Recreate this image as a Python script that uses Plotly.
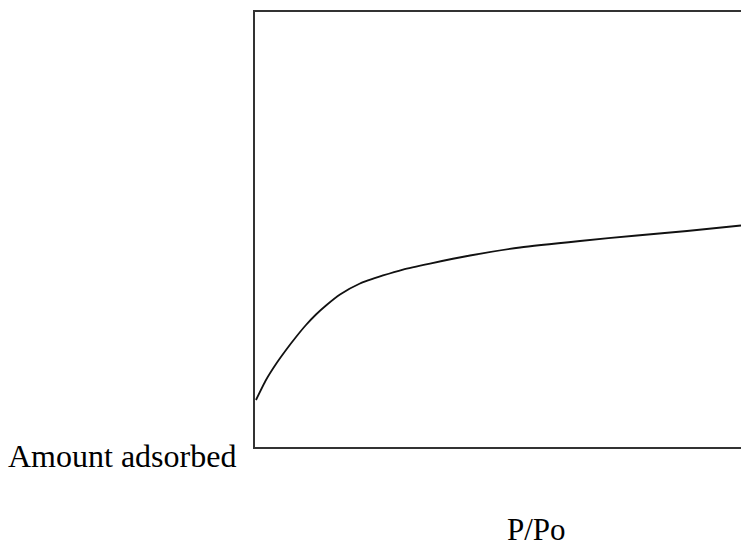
import plotly.graph_objects as go

# Relative pressure (P/Po) and amount adsorbed (arbitrary units)
p_po = [0.002, 0.0226, 0.0432, 0.0638, 0.0844, 0.1049, 0.1255, 0.1461, 0.1749,
        0.2160, 0.2634, 0.3045, 0.3601, 0.4424, 0.5453, 0.6687, 0.7860, 0.8889, 1.0]
amount = [0.108, 0.154, 0.1908, 0.223, 0.2529, 0.2805, 0.3046, 0.3253, 0.3506,
          0.3759, 0.3943, 0.408, 0.4218, 0.4402, 0.4586, 0.4736, 0.4862, 0.4966, 0.5092]

x_label = "P/Po"
y_label = "Amount adsorbed"

FONT = "Liberation Serif, Times New Roman, serif"

fig = go.Figure()
fig.add_trace(go.Scatter(
    x=p_po, y=amount, mode="lines",
    line=dict(color="#111111", width=1.8, shape="spline", smoothing=0.5),
    hoverinfo="skip", showlegend=False,
))

fig.update_layout(
    width=741, height=550,
    margin=dict(l=255, r=0, t=12, b=103),
    paper_bgcolor="white", plot_bgcolor="white",
    showlegend=False,
    font=dict(family=FONT, size=32, color="black"),
    xaxis=dict(range=[0, 1], showgrid=False, zeroline=False, showticklabels=False,
               ticks="", showline=True, linecolor="#333333", linewidth=2, mirror=True,
               fixedrange=True),
    yaxis=dict(range=[0, 1], showgrid=False, zeroline=False, showticklabels=False,
               ticks="", showline=True, linecolor="#333333", linewidth=2, mirror=False,
               fixedrange=True),
    annotations=[
        dict(text=y_label, xref="paper", yref="paper", x=-0.035, y=-0.021,
             xanchor="right", yanchor="middle", showarrow=False,
             font=dict(family=FONT, size=32, color="black")),
        dict(text=x_label, xref="paper", yref="paper", x=0.580, y=-0.190,
             xanchor="center", yanchor="middle", showarrow=False,
             font=dict(family=FONT, size=31, color="black")),
    ],
)

fig.write_html(
    "out.html",
    config={"displayModeBar": False},
    post_script="document.body.style.margin='0';document.body.style.overflow='hidden';",
)
